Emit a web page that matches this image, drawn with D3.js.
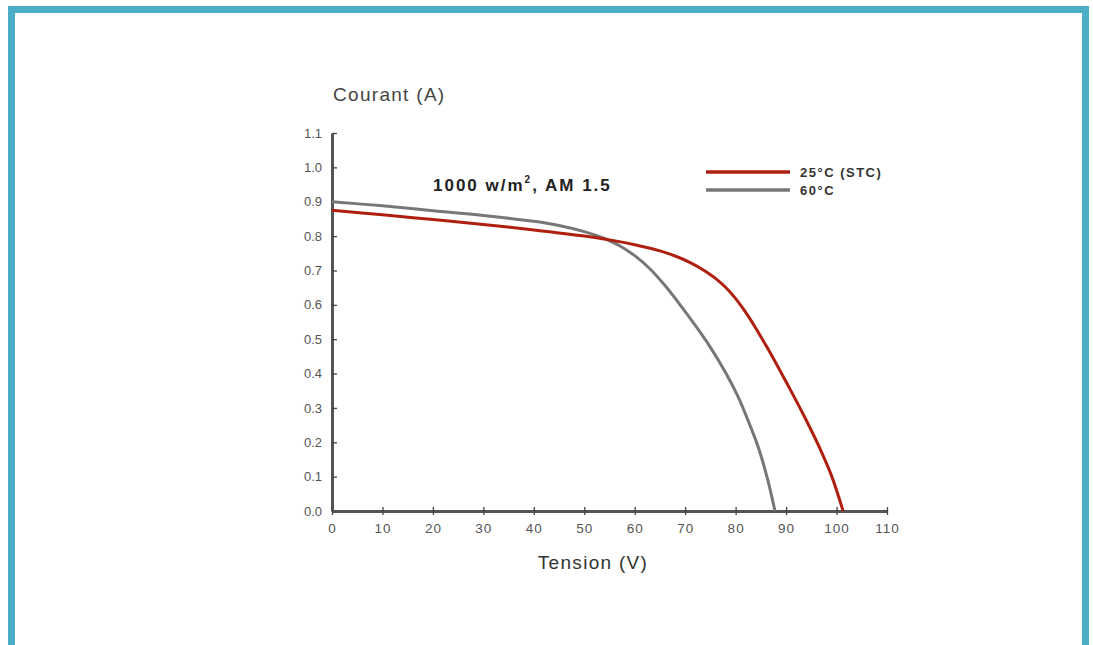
<!DOCTYPE html>
<html>
<head>
<meta charset="utf-8">
<script src="https://cdn.jsdelivr.net/npm/d3@7"></script>
<style>
  body { margin: 0; background: #fff; }
  svg { display: block; font-family: "Liberation Sans", Arial, sans-serif; }
  .axis text { fill: #555; }
</style>
</head>
<body>
<div id="chart"></div>
<script>
// tick values
var xTicks = d3.range(0, 111, 10);
var yTicks = d3.range(0, 12).map(function(d) { return d / 10; });

// I-V curve at 25°C (STC), [tension V, courant A]
var curve25 = [[0,0.875],[10,0.862],[20,0.848],[30,0.834],[40,0.818],[50,0.80],[55,0.789],
  [60,0.775],[65,0.757],[68,0.742],[71,0.723],[74,0.698],[76,0.677],[78,0.651],[80,0.618],
  [82,0.578],[84,0.532],[86,0.482],[88,0.43],[90.8,0.354],[94,0.264],[96.7,0.182],
  [99,0.103],[101.3,0.0]];

// I-V curve at 60°C
var curve60 = [[0,0.90],[10,0.888],[20,0.874],[30,0.86],[40,0.843],[45,0.831],[50,0.813],
  [54,0.793],[57,0.772],[60,0.743],[63,0.705],[66,0.656],[69,0.60],[72,0.54],[75,0.476],
  [78,0.403],[80.5,0.332],[82.5,0.262],[84.5,0.185],[86.2,0.10],[87.8,0.0]];

var series = [
  {label: "25°C (STC)", color: "#ae1f10", data: curve25},
  {label: "60°C", color: "#777", data: curve60}
];

var width = 1093, height = 645;

var svg = d3.select("#chart").append("svg")
  .attr("width", width)
  .attr("height", height);

// blue frame
svg.append("rect")
  .attr("x", 11.5).attr("y", 9.5)
  .attr("width", 1074).attr("height", 660)
  .attr("fill", "#fff")
  .attr("stroke", "#4badc6")
  .attr("stroke-width", 7);

var x = d3.scaleLinear().domain([0, 110]).range([332, 887]);
var y = d3.scaleLinear().domain([0, 1.1]).range([511, 133]);

// y axis
var yAxis = d3.axisLeft(y)
  .tickValues(yTicks)
  .tickFormat(d3.format(".1f"))
  .tickSizeInner(-5)
  .tickSizeOuter(0)
  .tickPadding(10);

var gy = svg.append("g")
  .attr("class", "axis")
  .attr("transform", "translate(" + x(0) + ",0)")
  .call(yAxis);
gy.select(".domain").attr("stroke", "#555").attr("stroke-width", 3);
gy.selectAll(".tick line").attr("stroke", "#444").attr("stroke-width", 1.3);
gy.selectAll(".tick text").attr("font-size", "13px");

// x axis
var xAxis = d3.axisBottom(x)
  .tickValues(xTicks)
  .tickSizeInner(4)
  .tickSizeOuter(0)
  .tickPadding(8);

var gx = svg.append("g")
  .attr("class", "axis")
  .attr("transform", "translate(0," + y(0) + ")")
  .call(xAxis);
gx.select(".domain").attr("stroke", "#555").attr("stroke-width", 3);
gx.selectAll(".tick line").attr("y1", -4).attr("stroke", "#444").attr("stroke-width", 1.3);
gx.selectAll(".tick text").attr("font-size", "13.5px").attr("letter-spacing", "1px");

// axis titles
svg.append("text")
  .attr("x", 333).attr("y", 101)
  .attr("fill", "#444")
  .attr("font-size", "19px")
  .attr("letter-spacing", "1.3px")
  .text("Courant (A)");

svg.append("text")
  .attr("x", 593).attr("y", 569)
  .attr("text-anchor", "middle")
  .attr("fill", "#333")
  .attr("font-size", "19px")
  .attr("letter-spacing", "1.3px")
  .text("Tension (V)");

// condition label
var title = svg.append("text")
  .attr("x", 433).attr("y", 191)
  .attr("fill", "#222")
  .attr("font-weight", "bold")
  .attr("font-size", "17px")
  .attr("letter-spacing", "2px");
title.append("tspan").text("1000 w/m");
title.append("tspan").attr("font-size", "10px").attr("dy", -8).text("2");
title.append("tspan").attr("dy", 8).text(", AM 1.5");

// curves
var line = d3.line()
  .x(function(d) { return x(d[0]); })
  .y(function(d) { return y(d[1]); })
  .curve(d3.curveCatmullRom.alpha(0.5));

svg.selectAll(".curve")
  .data(series.slice().reverse())
  .enter().append("path")
  .attr("class", "curve")
  .attr("d", function(d) { return line(d.data); })
  .attr("fill", "none")
  .attr("stroke", function(d) { return d.color; })
  .attr("stroke-width", 3);

// legend
var legend = svg.selectAll(".legend")
  .data(series)
  .enter().append("g")
  .attr("class", "legend")
  .attr("transform", function(d, i) { return "translate(706," + (172 + i * 18) + ")"; });

legend.append("line")
  .attr("x1", 0).attr("x2", 84)
  .attr("stroke", function(d) { return d.color; })
  .attr("stroke-width", 3.5);

legend.append("text")
  .attr("x", 94).attr("y", 4.5)
  .attr("fill", "#333")
  .attr("font-weight", "bold")
  .attr("font-size", "13px")
  .attr("letter-spacing", "1.5px")
  .text(function(d) { return d.label; });
</script>
</body>
</html>
